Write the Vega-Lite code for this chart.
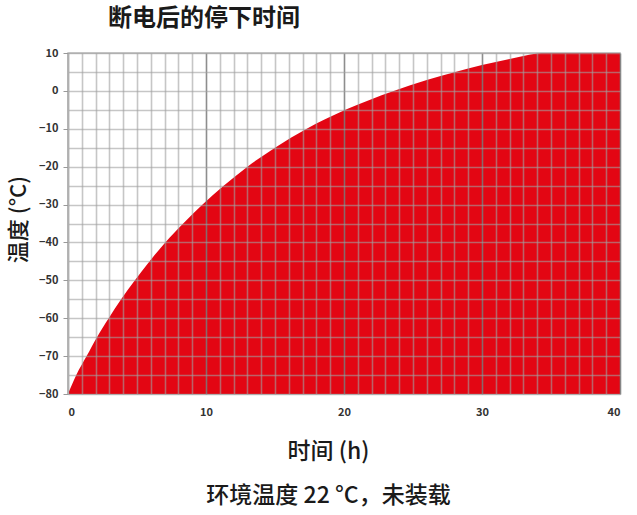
{
  "$schema": "https://vega.github.io/schema/vega-lite/v6.json",
  "description": "断电后的停下时间 - 温度随时间变化",
  "autosize": "none",
  "width": 552,
  "height": 341,
  "padding": {"left": 68, "top": 53, "right": 17, "bottom": 121},
  "background": "white",
  "title": {
    "text": "断电后的停下时间",
    "anchor": "start",
    "frame": "group",
    "dx": 40,
    "offset": 16,
    "font": "Noto Sans CJK SC",
    "fontSize": 24,
    "fontWeight": "bold",
    "color": "#1a1a1a"
  },
  "data": {
    "values": [
      {"t": 0, "temp": -80},
      {"t": 0.6, "temp": -75},
      {"t": 1.35, "temp": -70},
      {"t": 2.1, "temp": -65},
      {"t": 2.95, "temp": -60},
      {"t": 3.85, "temp": -55},
      {"t": 4.85, "temp": -50},
      {"t": 5.9, "temp": -45},
      {"t": 7.05, "temp": -40},
      {"t": 8.35, "temp": -35},
      {"t": 9.75, "temp": -30},
      {"t": 11.3, "temp": -25},
      {"t": 13.0, "temp": -20},
      {"t": 15.0, "temp": -15},
      {"t": 17.3, "temp": -10},
      {"t": 20.1, "temp": -5},
      {"t": 23.6, "temp": 0},
      {"t": 26, "temp": 2.9},
      {"t": 28, "temp": 4.9},
      {"t": 30, "temp": 6.8},
      {"t": 32, "temp": 8.4},
      {"t": 34, "temp": 9.9},
      {"t": 34.6, "temp": 10},
      {"t": 40, "temp": 10}
    ]
  },
  "mark": {"type": "area", "color": "#e30613", "interpolate": "monotone", "opacity": 1},
  "encoding": {
    "x": {
      "field": "t",
      "type": "quantitative",
      "scale": {"domain": [0, 40], "nice": false},
      "axis": {
        "values": [0,1,2,3,4,5,6,7,8,9,10,11,12,13,14,15,16,17,18,19,20,21,22,23,24,25,26,27,28,29,30,31,32,33,34,35,36,37,38,39,40],
        "labelExpr": "datum.value % 10 === 0 ? datum.label : ''",
        "ticks": false,
        "domain": false,
        "zindex": 1,
        "gridColor": {"condition": {"test": "datum.value % 10 === 0", "value": "#7a7a7a"}, "value": "#a0a0a0"},
        "gridOpacity": {"condition": {"test": "datum.value % 10 === 0", "value": 0.85}, "value": 0.6},
        "gridWidth": 1.6,
        "labelPadding": 12,
        "title": ["时间 (h)", "环境温度 22 °C，未装载"],
        "titleLineHeight": 44,
        "titleX": 260,
        "titleY": 46,
        "titleBaseline": "top",
        "titleAlign": "center",
        "titleFontSize": 23,
        "titleFontWeight": 500
      }
    },
    "y": {
      "field": "temp",
      "type": "quantitative",
      "scale": {"domain": [-80, 10], "nice": false, "zero": false},
      "axis": {
        "values": [-80,-75,-70,-65,-60,-55,-50,-45,-40,-35,-30,-25,-20,-15,-10,-5,0,5,10],
        "labelExpr": "datum.value % 10 === 0 ? datum.label : ''",
        "ticks": true,
        "tickSize": 5,
        "tickColor": "#999999",
        "tickOpacity": {"condition": {"test": "datum.value % 10 === 0", "value": 1}, "value": 0},
        "domain": true,
        "domainColor": "#b0b0b0",
        "zindex": 1,
        "gridColor": "#a0a0a0",
        "gridOpacity": 0.6,
        "gridWidth": 1.6,
        "labelPadding": 5,
        "title": "温度 (°C)",
        "titleX": -50,
        "titleY": 166,
        "titleAngle": -90,
        "titleAlign": "center",
        "titleBaseline": "middle",
        "titleFontSize": 22,
        "titleFontWeight": 500
      }
    },
    "y2": {"datum": -80}
  },
  "config": {
    "font": "Noto Sans CJK SC",
    "view": {"stroke": "#b8b8b8", "strokeWidth": 1.5},
    "axis": {
      "labelFont": "Noto Sans CJK SC",
      "labelFontSize": 11,
      "labelFontWeight": "bold",
      "labelColor": "#333333",
      "titleFont": "Noto Sans CJK SC",
      "titleColor": "#1a1a1a"
    }
  }
}
